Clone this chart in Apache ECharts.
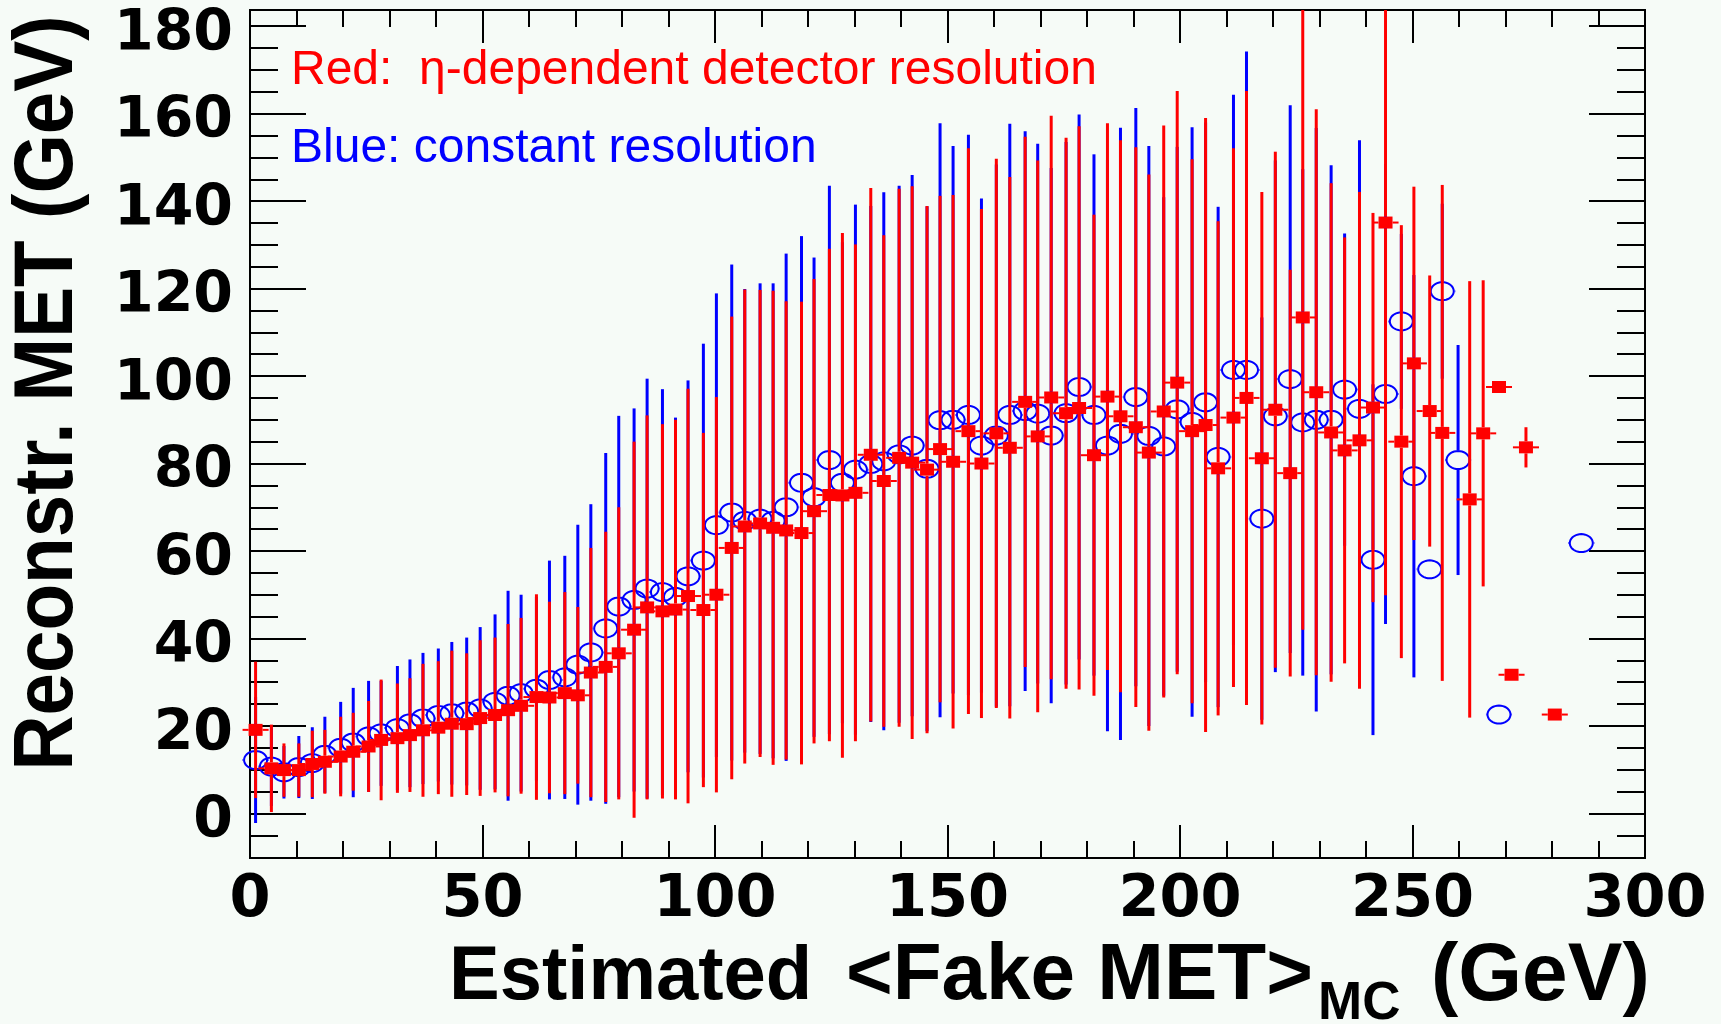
<!DOCTYPE html>
<html>
<head>
<meta charset="utf-8">
<title>Reconstructed vs estimated fake MET</title>
<script src="https://cdn.jsdelivr.net/npm/echarts@6/dist/echarts.min.js"></script>
<style>
  html, body { margin: 0; padding: 0; background: #f6fbf7; }
  #chart { width: 1721px; height: 1024px; }
</style>
</head>
<body>
<div id="chart"></div>
<script>
// Profile of reconstructed MET versus estimated <Fake MET>_MC (GeV):
// bin mean on x, mean reconstructed MET and its spread on y.

// eta-dependent detector resolution
const redX = [1.2, 4.6, 7.3, 10.5, 13.4, 16.1, 19.5, 22.2, 25.5, 28.2, 31.7, 34.4, 37.2, 40.5,
  43.4, 46.6, 49.5, 52.7, 55.5, 58.3, 61.6, 64.4, 67.7, 70.5, 73.3, 76.5, 79.3,
  82.6, 85.4, 88.7, 91.5, 94.2, 97.5, 100.3, 103.6, 106.4, 109.7, 112.5, 115.3,
  118.6, 121.3, 124.6, 127.4, 130.2, 133.5, 136.3, 139.6, 142.4, 145.6, 148.4, 151.2,
  154.5, 157.3, 160.5, 163.4, 166.7, 169.4, 172.3, 175.5, 178.3, 181.5, 184.4, 187.2,
  190.5, 193.3, 196.5, 199.4, 202.6, 205.5, 208.2, 211.5, 214.3, 217.6, 220.5, 223.7,
  226.4, 229.3, 232.5, 235.4, 238.6, 241.5, 244.2, 247.6, 250.3, 253.7, 256.4,
  262.3, 265.2, 268.6, 271.3, 274.4, 280.6];
const redY = [19.1, 10.3, 9.9, 9.9, 11.3, 11.8, 13.0, 14.1, 15.3, 16.8, 17.2, 17.9, 19.0, 19.6,
  20.5, 20.4, 21.8, 22.5, 23.6, 24.6, 26.6, 26.5, 27.5, 27.0, 32.2, 33.5, 36.6,
  42.0, 47.1, 46.2, 46.6, 49.7, 46.5, 50.0, 60.7, 65.6, 66.3, 65.3, 64.7,
  64.1, 69.1, 72.8, 72.7, 73.3, 82.0, 76.0, 81.3, 80.2, 78.6, 83.3, 80.4,
  87.4, 80.0, 86.9, 83.6, 94.1, 86.2, 95.1, 91.5, 92.7, 81.9, 95.3, 90.8,
  88.3, 82.5, 91.9, 98.5, 87.4, 88.8, 78.9, 90.5, 95.0, 81.2, 92.3, 77.8,
  113.4, 96.3, 87.1, 83.0, 85.3, 92.8, 135.1, 85.0, 102.9, 92.0, 87.0,
  71.8, 86.9, 97.5, 31.7, 83.7, 22.6];
const redErr = [15.6, 10.0, 6.1, 6.1, 7.6, 7.3, 9.1, 8.9, 10.4, 13.8, 12.5, 13.0, 15.2, 15.2,
  16.7, 16.2, 17.8, 17.7, 19.7, 20.1, 23.5, 21.9, 23.1, 20.2, 28.5, 30.9, 33.4,
  43.0, 43.9, 42.8, 43.4, 47.4, 40.5, 45.2, 52.9, 54.2, 53.4, 54.2, 52.4,
  52.9, 53.1, 56.3, 60.0, 56.8, 61.0, 56.2, 61.5, 63.2, 60.3, 57.9, 61.0,
  64.7, 58.2, 62.8, 61.9, 60.6, 63.1, 64.4, 63.0, 64.4, 55.0, 62.5, 63.1,
  64.0, 63.6, 65.4, 66.7, 62.2, 70.2, 56.5, 61.6, 70.2, 60.9, 59.0, 46.5,
  71.4, 64.7, 57.0, 48.7, 56.8, 44.5, 85.2, 49.5, 40.4, 31.0, 56.7,
  49.9, 35.0, 1.0, 1.0, 4.6, 0.6];

// constant resolution
const blueX = [1.2, 4.6, 7.3, 10.5, 13.4, 16.1, 19.5, 22.2, 25.5, 28.2, 31.7, 34.4, 37.2, 40.5,
  43.4, 46.6, 49.5, 52.7, 55.5, 58.3, 61.6, 64.4, 67.7, 70.5, 73.3, 76.5, 79.3,
  82.6, 85.4, 88.7, 91.5, 94.2, 97.5, 100.3, 103.6, 106.4, 109.7, 112.5, 115.3,
  118.6, 121.3, 124.6, 127.4, 130.2, 133.5, 136.3, 139.6, 142.4, 145.6, 148.4, 151.2,
  154.5, 157.3, 160.5, 163.4, 166.7, 169.4, 172.3, 175.5, 178.3, 181.5, 184.4, 187.2,
  190.5, 193.3, 196.5, 199.4, 202.6, 205.5, 208.2, 211.5, 214.3, 217.6, 220.5, 223.7,
  226.4, 229.3, 232.5, 235.4, 238.6, 241.5, 244.2, 247.6, 250.3, 253.7, 256.4,
  259.8, 268.6, 286.3];
const blueY = [12.2, 10.7, 9.4, 10.6, 11.5, 13.4, 15.0, 16.2, 17.6, 18.3, 19.5, 20.6, 21.7, 22.5,
  22.9, 23.3, 24.0, 25.5, 26.9, 27.5, 28.5, 30.5, 31.1, 34.0, 36.8, 42.3, 47.3,
  48.8, 51.4, 50.6, 49.5, 54.2, 57.8, 65.9, 68.8, 66.9, 67.4, 66.9, 70.0,
  75.6, 72.3, 80.8, 75.6, 78.6, 79.9, 80.5, 82.1, 84.1, 78.8, 89.9, 90.0,
  91.1, 84.1, 86.4, 91.1, 92.0, 91.4, 86.4, 91.5, 97.5, 91.1, 84.1, 86.8,
  95.2, 86.3, 83.9, 92.4, 89.5, 94.0, 81.5, 101.4, 101.4, 67.4, 90.8, 99.3,
  89.4, 90.0, 90.0, 96.9, 92.5, 58.0, 95.9, 112.5, 77.1, 55.8, 119.4,
  80.8, 22.6, 61.8];
const blueErr = [14.4, 9.0, 6.0, 7.1, 8.2, 8.7, 10.5, 12.5, 12.7, 12.0, 14.2, 14.6, 15.0, 15.2,
  16.3, 16.9, 18.6, 20.0, 24.0, 22.5, 21.0, 27.3, 27.8, 32.0, 33.9, 40.1, 43.6,
  43.8, 48.0, 46.4, 41.0, 44.8, 49.6, 53.0, 56.7, 53.0, 53.8, 54.3, 58.0,
  56.4, 54.8, 62.7, 55.0, 60.6, 59.0, 61.5, 61.4, 61.9, 60.0, 67.9, 62.6,
  64.1, 56.5, 62.0, 66.6, 64.0, 61.7, 61.2, 62.0, 62.3, 59.6, 65.3, 70.0,
  66.1, 66.3, 57.0, 60.0, 67.4, 64.0, 57.2, 62.9, 72.8, 46.0, 58.5, 62.6,
  57.9, 66.7, 58.2, 35.7, 61.4, 40.1, 52.6, 20.0, 46.0, 0, 20.0,
  26.3, 0, 0];

// horizontal half width of every point (GeV)
const xHalfWidth = 2.8;

const xTickLabels = [0, 50, 100, 150, 200, 250, 300];
const yTickLabels = [0, 20, 40, 60, 80, 100, 120, 140, 160, 180];

const Y_MIN = -10.2, Y_MAX = 183.7;
const RED = '#ff0000', BLUE = '#0000ff', INK = '#000000';

const yMinorTicks = [];
for (let v = -5; v <= 180; v += 5) if (v % 20 !== 0) yMinorTicks.push(v);

function toPoints(xs, ys, es) {
  return xs.map((x, i) => [x, ys[i], es[i], xHalfWidth]);
}

// Error bar drawn from the marker edge outwards, clipped to the frame.
function errorBarRenderer(color, kind) {
  const hw = kind === 'square' ? 7 : 12.5;
  const hh = kind === 'square' ? 6 : 10;
  return function (params, api) {
    const x = api.value(0), y = api.value(1), e = api.value(2), xe = api.value(3);
    const cs = params.coordSys;
    const clampY = v => Math.min(Math.max(v, cs.y), cs.y + cs.height);
    const c = api.coord([x, y]);
    const up = clampY(api.coord([x, y + e])[1]);
    const dn = clampY(api.coord([x, y - e])[1]);
    const l = api.coord([x - xe, y])[0];
    const r = api.coord([x + xe, y])[0];
    const vStyle = { stroke: color, lineWidth: 3 };
    const hStyle = { stroke: color, lineWidth: 2 };
    const kids = [];
    if (up < c[1] - hh) kids.push({ type: 'line', shape: { x1: c[0], y1: up, x2: c[0], y2: c[1] - hh }, style: vStyle });
    if (dn > c[1] + hh) kids.push({ type: 'line', shape: { x1: c[0], y1: c[1] + hh, x2: c[0], y2: dn }, style: vStyle });
    if (l < c[0] - hw) kids.push({ type: 'line', shape: { x1: l, y1: c[1], x2: c[0] - hw, y2: c[1] }, style: hStyle });
    if (r > c[0] + hw) kids.push({ type: 'line', shape: { x1: c[0] + hw, y1: c[1], x2: r, y2: c[1] }, style: hStyle });
    if (kind === 'square') {
      kids.push({ type: 'rect', shape: { x: c[0] - hw, y: c[1] - hh, width: 2 * hw, height: 2 * hh }, style: { fill: color } });
    } else {
      const pts = [];
      for (let k = 0; k < 36; k++) {
        const a = (k / 36) * Math.PI * 2;
        pts.push([c[0] + (hw - 1) * Math.cos(a), c[1] + (hh - 1) * Math.sin(a)]);
      }
      kids.push({ type: 'polygon', shape: { points: pts }, style: { fill: 'none', stroke: color, lineWidth: 2 } });
    }
    return { type: 'group', children: kids };
  };
}

function xAxisDef(position, withLabels) {
  return {
    type: 'value', position: position, min: 0, max: 300, interval: 50,
    axisLine: { show: true, onZero: false, lineStyle: { color: INK, width: 2 } },
    axisTick: { show: true, inside: true, length: 33, lineStyle: { color: INK, width: 2 } },
    minorTick: { show: true, splitNumber: 5, length: 17, lineStyle: { color: INK, width: 2 } },
    axisLabel: withLabels ? {
      show: true, margin: 13, color: INK,
      fontFamily: 'DejaVu Sans', fontWeight: 'bold', fontSize: 59,
      customValues: xTickLabels
    } : { show: false },
    splitLine: { show: false }, minorSplitLine: { show: false }
  };
}

function yAxisDef(position, ticks, len, withLabels) {
  return {
    type: 'value', position: position, min: Y_MIN, max: Y_MAX,
    axisLine: { show: true, onZero: false, lineStyle: { color: INK, width: 2 } },
    axisTick: { show: true, inside: true, length: len, customValues: ticks, lineStyle: { color: INK, width: 2 } },
    axisLabel: withLabels ? {
      show: true, margin: 17, color: INK,
      verticalAlign: 'top', lineHeight: 18,
      fontFamily: 'DejaVu Sans', fontWeight: 'bold', fontSize: 57,
      customValues: yTickLabels
    } : { show: false },
    splitLine: { show: false }
  };
}

const chart = echarts.init(document.getElementById('chart'), null, { renderer: 'canvas' });

const boldFont = size => 'bold ' + size + 'px "Liberation Sans", Arial, sans-serif';
const textStyle = (text, font, fill) => ({
  text: text, font: font, fill: fill,
  align: 'left', textAlign: 'left', verticalAlign: 'middle', textVerticalAlign: 'middle'
});

chart.setOption({
  backgroundColor: '#f6fbf7',
  animation: false,
  textStyle: { fontFamily: '"Liberation Sans", Arial, sans-serif' },
  grid: { left: 250, top: 10, width: 1395, height: 848, outerBoundsMode: 'none', containLabel: false },
  xAxis: [xAxisDef('bottom', true), xAxisDef('top', false)],
  yAxis: [
    yAxisDef('left', yTickLabels, 56, true),
    yAxisDef('left', yMinorTicks, 28, false),
    yAxisDef('right', yTickLabels, 56, false),
    yAxisDef('right', yMinorTicks, 28, false)
  ],
  series: [
    {
      name: 'Blue: constant resolution', type: 'custom',
      xAxisIndex: 0, yAxisIndex: 0,
      renderItem: errorBarRenderer(BLUE, 'circle'),
      encode: { x: 0, y: 1 },
      data: toPoints(blueX, blueY, blueErr), z: 2
    },
    {
      name: 'Red: eta-dependent detector resolution', type: 'custom',
      xAxisIndex: 0, yAxisIndex: 0,
      renderItem: errorBarRenderer(RED, 'square'),
      encode: { x: 0, y: 1 },
      data: toPoints(redX, redY, redErr), z: 3
    }
  ],
  graphic: [
    {
      type: 'text', x: 49, y: 393, rotation: Math.PI / 2, scaleX: 0.92,
      style: { text: 'Reconstr. MET (GeV)', font: boldFont(83), fill: INK,
        align: 'center', textAlign: 'center', verticalAlign: 'middle', textVerticalAlign: 'middle' }
    },
    { type: 'text', x: 449, y: 978, style: textStyle('Estimated', boldFont(76), INK) },
    { type: 'text', x: 846, y: 977, style: textStyle('<Fake MET>', boldFont(80), INK) },
    { type: 'text', x: 1318, y: 1004, style: textStyle('MC', boldFont(53), INK) },
    { type: 'text', x: 1431, y: 977, style: textStyle('(GeV)', boldFont(82), INK) },
    { type: 'text', x: 291, y: 71, style: textStyle('Red:  \u03b7-dependent detector resolution', '48px "Liberation Sans", Arial, sans-serif', RED) },
    { type: 'text', x: 291, y: 149, style: textStyle('Blue: constant resolution', '48px "Liberation Sans", Arial, sans-serif', BLUE) }
  ]
});
</script>
</body>
</html>
